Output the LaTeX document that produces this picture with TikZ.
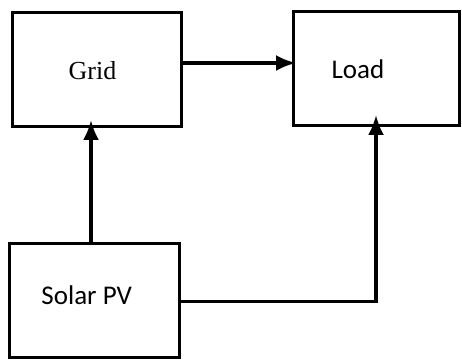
\documentclass[tikz,border=0pt]{standalone}
\usepackage{fontspec}
\setmainfont{Liberation Serif}
\newfontfamily\calfont{Carlito}
\usetikzlibrary{calc,arrows.meta}
\tikzset{
	box/.style={draw, line width=3pt, minimum width=169pt, minimum height=114pt, inner sep=0pt},
	wire/.style={line width=3.2pt},
	arr/.style={wire, -{Latex[length=20pt, width=16pt]}},
	boxtext/.style={anchor=base, inner sep=0pt, font=\calfont\fontsize{27}{30}\selectfont}
}
\begin{document}
\begin{tikzpicture}[x=1pt, y=-1pt]
		%%%%% START %%%%%
		\useasboundingbox (0, 0) rectangle (462, 363);
		
		\node[box] (grid) at (96.5, 70) {};
		\node[box, minimum width=166pt, minimum height=113.5pt] (load) at (376, 68.75) {};
		\node[box, minimum width=169.5pt] (solar) at (94.25, 300) {};
		
		\node[boxtext, font=\rmfamily\fontsize{26}{30}\selectfont] (gridtext) at (92.5, 80) {Grid};
		\node[boxtext] (loadtext) at (358, 78.3) {Load};
		\node[boxtext] (solartext) at (86.7, 304) {Solar PV};
		
		\coordinate (gridin) at (91, 120);
		\coordinate (loadin) at (376, 115);
		\coordinate (loadleft) at (296, 63);
		
		\draw[arr] (grid.east |- loadleft) -- (loadleft);
		\draw[arr] (solar.north -| gridin) -- (gridin);
		\draw[arr] ($(solar.east)+(0, 1.5)$) -| (loadin);
		
		%%%%% END %%%%%
	\end{tikzpicture}
\end{document}
